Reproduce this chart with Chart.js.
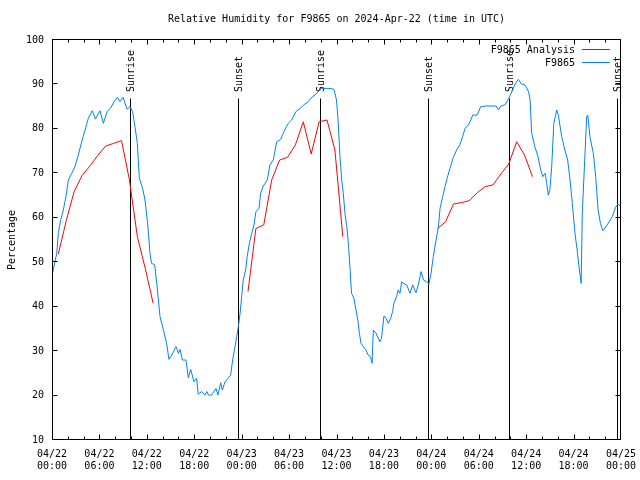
<!DOCTYPE html>
<html>
<head>
<meta charset="utf-8">
<title>Relative Humidity for F9865</title>
<script src="https://cdn.jsdelivr.net/npm/chart.js@4.4.1/dist/chart.umd.min.js"></script>
<style>
  html, body { margin: 0; padding: 0; background: #fff; }
  canvas { display: block; }
</style>
</head>
<body>
<canvas id="rhChart" width="640" height="480"></canvas>
<script>
// time axis is hours since 2024-04-22 00:00 UTC
const obsHours = [0.1, 0.6, 0.8, 1.1, 1.43, 1.77, 2.07, 2.5, 2.9, 3.33, 3.75, 4.18, 4.6, 5.1, 5.5, 6.07, 6.5, 7.0, 7.4, 7.85,
  8.27, 8.6, 9.0, 9.5, 9.87, 10.2, 10.5, 10.8, 11.05, 11.47, 11.77, 12.1, 12.4, 12.6, 13.0, 13.3, 13.67, 14.1, 14.5, 14.8,
  15.15, 15.7, 16.0, 16.2, 16.5, 16.95, 17.25, 17.55, 17.97, 18.3, 18.5, 18.94, 19.36, 19.6, 19.8, 20.2, 20.75, 21.0, 21.35, 21.55,
  21.9, 22.3, 22.6, 22.86, 23.15, 23.37, 23.58, 23.8, 24.0, 24.2, 24.5, 24.7, 24.97, 25.27, 25.56, 25.8, 26.2, 26.4, 26.74, 27.24,
  27.58, 28.0, 28.43, 28.94, 29.36, 29.9, 30.33, 30.87, 31.38, 32.0, 32.43, 32.86, 33.28, 33.7, 34.1, 34.76, 35.4, 35.7, 36.0, 36.2,
  36.44, 36.66, 36.86, 37.07, 37.3, 37.5, 37.7, 37.9, 38.2, 38.47, 38.7, 38.9, 39.1, 39.4, 39.73, 40.0, 40.3, 40.5, 40.66, 41.0,
  41.5, 41.7, 42.0, 42.26, 42.56, 42.86, 43.1, 43.27, 43.6, 43.8, 44.03, 44.25, 44.45, 44.88, 45.3, 45.64, 46.06, 46.35, 46.7, 47.0,
  47.4, 47.7, 47.96, 48.25, 48.6, 48.9, 49.1, 49.44, 49.73, 50.0, 50.36, 50.78, 51.2, 51.6, 51.96, 52.26, 52.68, 52.9, 53.23, 53.8,
  54.25, 55.0, 56.2, 56.5, 56.8, 57.3, 57.74, 58.2, 58.6, 59.0, 59.4, 59.85, 60.3, 60.5, 60.7, 61.1, 61.5, 61.84, 62.1, 62.4,
  62.6, 62.8, 63.0, 63.23, 63.5, 63.87, 64.07, 64.5, 64.9, 65.25, 65.55, 65.84, 66.18, 66.5, 66.74, 66.96, 67.1, 67.35, 67.66, 67.8,
  68.07, 68.5, 68.8, 69.1, 69.4, 69.7, 70.1, 70.5, 70.9, 71.3, 71.6, 72.0];
const obsValues = [47.8, 52, 56.5, 59.5, 61.75, 64.75, 68.5, 70, 71.5, 74.1, 77.1, 79.75, 82.4, 84.1, 82.2, 84.1, 81.25, 84.0, 84.6, 86.1,
  87.1, 86.1, 87.1, 84.4, 85, 83.9, 80.5, 76.75, 68.9, 66.6, 64, 58.75, 52, 49.75, 49.4, 44.5, 37.75, 34.75, 31.75, 28.15,
  29.1, 31.0, 29.5, 30.4, 28, 28, 24.0, 25.9, 23.1, 23.9, 20.3, 20.9, 20.1, 20.9, 20.1, 20.1, 21.6, 20.1, 22.9, 21.25,
  23.1, 23.9, 24.6, 28, 31, 33.25, 35.5, 38.5, 42.25, 46, 48.25, 51.25, 54.25, 56.5, 58.4, 61.4, 62.1, 65.5, 67.15, 68.5,
  71.9, 73, 77.1, 77.65, 79.4, 81.25, 82, 83.9, 84.6, 85.6, 86.1, 87.1, 87.6, 88.4, 89.1, 89.1, 89.1, 88.75, 86.5, 82,
  73.75, 68.5, 65.5, 61, 58, 54.25, 49, 43, 41.9, 39.25, 37, 34, 31.75, 31, 30.25, 29.1, 28.75, 27.25, 34.75, 34,
  32.1, 32.9, 37.9, 37.4, 36.25, 37.4, 38.9, 40.75, 42.25, 43.75, 43, 45.6, 45.25, 44.9, 43, 44.9, 43.1, 44.9, 47.9, 46,
  45.6, 45.1, 47.5, 51.25, 55, 58, 62.1, 64.75, 67, 68.9, 71.1, 73.6, 75.25, 76.4, 78.25, 80.1, 80.9, 81.6, 83.1, 83.1,
  85, 85.15, 85.15, 84.25, 85.15, 85.4, 86.65, 88.4, 90.1, 91.15, 90.1, 89.9, 88.4, 86.5, 79, 76, 73.75, 70.75, 69.25, 70,
  67.75, 65.1, 66.25, 71.5, 81.25, 84.25, 83.1, 78.25, 75.25, 73, 68.5, 63.25, 56.5, 52, 48.25, 45.25, 61, 70.75, 82.75, 83.1,
  78.25, 74.5, 69.25, 61.75, 58.75, 57.1, 58, 59.1, 60.25, 62.35, 63.1, 62.5];

// analysis values, hourly at :48, null = gap
const anaHours = [0.8, 1.8, 2.8, 3.8, 4.8, 5.8, 6.8, 7.8, 8.8, 9.8, 10.8, 11.8, 12.8, 18,
  24.8, 25.8, 26.8, 27.8, 28.8, 29.8, 30.8, 31.8, 32.8, 33.8, 34.8, 35.8, 36.8, 42,
  48.8, 49.8, 50.8, 51.8, 52.8, 53.8, 54.8, 55.8, 56.8, 57.8, 58.8, 59.8, 60.8];
const anaValues = [51.85, 59.3, 65.9, 69.5, 71.65, 74.05, 76.15, 76.75, 77.35, 68.5, 55.75, 48.6, 40.75, null,
  43.4, 57.6, 58.4, 68.5, 73, 73.6, 76.4, 81.6, 74.35, 81.6, 82, 75.25, 55.75, null,
  57.6, 59.1, 63.1, 63.4, 63.85, 65.65, 67, 67.4, 69.85, 72.1, 77.1, 74.1, 69.25];

const sunHours = [9.85, 23.52, 33.9, 47.57, 57.8, 71.46];
const sunLabels = ['Sunrise', 'Sunset', 'Sunrise', 'Sunset', 'Sunrise', 'Sunset'];

const xTickDays = ['04/22', '04/22', '04/22', '04/22', '04/23', '04/23', '04/23', '04/23', '04/24', '04/24', '04/24', '04/24', '04/25'];
const xTickTimes = ['00:00', '06:00', '12:00', '18:00', '00:00', '06:00', '12:00', '18:00', '00:00', '06:00', '12:00', '18:00', '00:00'];
const yTicks = [10, 20, 30, 40, 50, 60, 70, 80, 90, 100];

const chartTitle = 'Relative Humidity for F9865 on 2024-Apr-22 (time in UTC)';
const FONT = '"DejaVu Sans Mono", "Liberation Mono", monospace';
const sunLineTop = 86.7; // in percent units

function toPoints(xs, ys) {
  return xs.map((h, i) => ({ x: h, y: ys[i] }));
}

// gnuplot style frame, inward ticks, sun markers, legend and title
const gnuFrame = {
  id: 'gnuFrame',
  beforeDatasetsDraw(chart) {
    const { ctx, chartArea: a, scales: { x, y } } = chart;
    ctx.save();
    ctx.strokeStyle = '#000';
    ctx.fillStyle = '#000';
    ctx.lineWidth = 1;
    ctx.font = '10px ' + FONT;
    const topPx = Math.round(y.getPixelForValue(sunLineTop)) - 0.5;
    sunHours.forEach((h, i) => {
      const px = Math.round(x.getPixelForValue(h)) + 0.5;
      ctx.beginPath();
      ctx.moveTo(px, topPx);
      ctx.lineTo(px, a.bottom);
      ctx.stroke();
      ctx.save();
      ctx.translate(px + 1, topPx - 6.5);
      ctx.rotate(-Math.PI / 2);
      ctx.textAlign = 'left';
      ctx.textBaseline = 'middle';
      ctx.fillText(sunLabels[i], 0, 0);
      ctx.restore();
    });
    ctx.restore();
  },
  afterDatasetsDraw(chart) {
    const { ctx, chartArea: a, scales: { x, y } } = chart;
    const L = Math.round(a.left) + 0.5, R = Math.round(a.right) - 0.5;
    const T = Math.round(a.top) - 0.5, B = Math.round(a.bottom) - 0.5;
    ctx.save();
    ctx.strokeStyle = '#000';
    ctx.fillStyle = '#000';
    ctx.lineWidth = 1;
    ctx.strokeRect(L, T, R - L, B - T);

    ctx.beginPath();
    for (let h = 0; h <= 72; h += 2) {
      const px = Math.min(Math.round(x.getPixelForValue(h)) + 0.5, R);
      const len = h % 6 === 0 ? 5 : 3;
      ctx.moveTo(px, B); ctx.lineTo(px, B - len);
      ctx.moveTo(px, T); ctx.lineTo(px, T + len);
    }
    yTicks.forEach(v => {
      const py = Math.round(y.getPixelForValue(v)) - 0.5;
      ctx.moveTo(L, py); ctx.lineTo(L + 5, py);
      ctx.moveTo(R, py); ctx.lineTo(R - 5, py);
    });
    ctx.stroke();

    // title
    ctx.font = '10px ' + FONT;
    ctx.textAlign = 'center';
    ctx.textBaseline = 'middle';
    ctx.fillText(chartTitle, (a.left + a.right) / 2, 19);

    // legend, top right inside the plot
    ctx.textAlign = 'right';
    chart.data.datasets.forEach((ds, i) => {
      const ly = a.top + 10 + i * 13;
      ctx.fillStyle = '#000';
      ctx.fillText(ds.label, a.right - 46, ly);
      ctx.strokeStyle = ds.borderColor;
      ctx.beginPath();
      ctx.moveTo(a.right - 39, Math.round(ly) - 0.5);
      ctx.lineTo(a.right - 11, Math.round(ly) - 0.5);
      ctx.stroke();
    });
    ctx.restore();
  }
};

const ctx = document.getElementById('rhChart').getContext('2d');
const rhChart = new Chart(ctx, {
  type: 'line',
  data: {
    datasets: [{
      label: 'F9865 Analysis',
      data: toPoints(anaHours, anaValues),
      borderColor: '#ff0000',
      borderWidth: 1,
      pointRadius: 0,
      tension: 0,
      spanGaps: false
    }, {
      label: 'F9865',
      data: toPoints(obsHours, obsValues),
      borderColor: 'rgb(0,128,255)',
      borderWidth: 1,
      pointRadius: 0,
      tension: 0
    }]
  },
  options: {
    responsive: false,
    animation: false,
    devicePixelRatio: 1,
    layout: { padding: { top: 40, right: 19, left: 0, bottom: 0 } },
    plugins: {
      legend: { display: false },
      title: { display: false },
      tooltip: { enabled: false }
    },
    scales: {
      x: {
        type: 'linear',
        min: 0,
        max: 72,
        grid: { display: false, drawTicks: false },
        border: { display: false },
        ticks: {
          stepSize: 6,
          autoSkip: false,
          maxRotation: 0,
          padding: 8,
          color: '#000',
          font: { family: FONT, size: 10, lineHeight: 1.25 },
          callback: (v) => {
            const i = Math.round(v / 6);
            return [xTickDays[i], xTickTimes[i]];
          }
        },
        afterFit: (s) => { s.height = 40; s.paddingLeft = 0; s.paddingRight = 0; }
      },
      y: {
        min: 10,
        max: 100,
        grid: { display: false, drawTicks: false },
        border: { display: false },
        ticks: {
          stepSize: 10,
          padding: 8,
          color: '#000',
          font: { family: FONT, size: 10 }
        },
        title: {
          display: true,
          text: 'Percentage',
          color: '#000',
          font: { family: FONT, size: 10 },
          padding: { top: 6, bottom: 0 }
        },
        afterFit: (s) => { s.width = 52; s.paddingTop = 0; s.paddingBottom = 0; }
      }
    }
  },
  plugins: [gnuFrame]
});
</script>
</body>
</html>
